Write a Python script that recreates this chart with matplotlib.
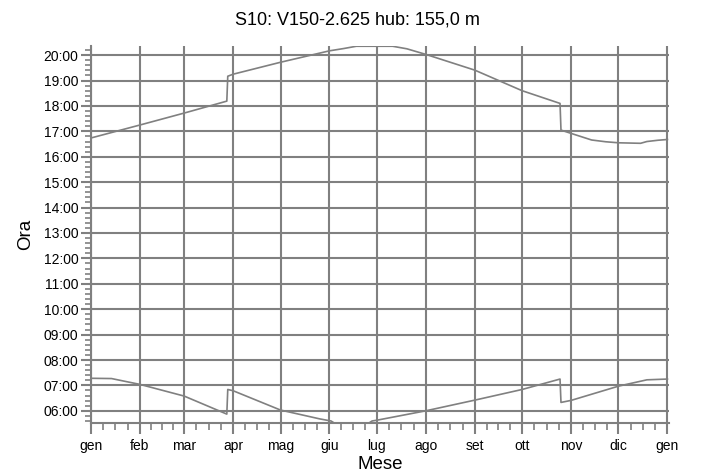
import matplotlib
matplotlib.use('Agg')
import matplotlib.pyplot as plt
from matplotlib.ticker import FixedLocator, MultipleLocator, FuncFormatter

plt.rcParams['font.family'] = ['Liberation Sans', 'DejaVu Sans']

# month starts (day of year) and labels
month_days = [0, 31, 59, 90, 120, 151, 181, 212, 243, 273, 304, 334, 365]
month_labels = ['gen', 'feb', 'mar', 'apr', 'mag', 'giu', 'lug', 'ago',
                'set', 'ott', 'nov', 'dic', 'gen']

# sunset (hours)
sunset_day = [0, 31, 59, 86, 86.6, 90, 120, 151, 160, 168, 191, 200, 212,
              243, 273, 297, 297.6, 304, 317, 326, 334, 348, 352, 359, 365]
sunset_h = [16.74, 17.25, 17.72, 18.19, 19.17, 19.25, 19.72, 20.17, 20.26,
            20.35, 20.35, 20.25, 20.03, 19.41, 18.60, 18.10, 17.05, 16.92,
            16.66, 16.59, 16.55, 16.53, 16.60, 16.65, 16.68]

# sunrise (hours)
sunrise_day = [0, 13, 20, 31, 59, 86, 86.6, 90, 120, 145, 152, 154, 176,
               178, 181, 212, 243, 273, 297, 297.6, 304, 334, 352, 365]
sunrise_h = [7.28, 7.27, 7.18, 7.04, 6.58, 5.87, 6.84, 6.79, 6.03, 5.68,
             5.60, 5.52, 5.52, 5.60, 5.63, 6.00, 6.42, 6.84, 7.25, 6.33,
             6.41, 6.97, 7.22, 7.25]

GRAY = '#808080'

fig = plt.figure(figsize=(7.02, 4.76), dpi=100)
ax = fig.add_axes([91/702, 1-422.5/476, (669-91)/702, (422.5-46)/476])

ax.plot(sunset_day, sunset_h, color=GRAY, lw=1.2)
ax.plot(sunrise_day, sunrise_h, color=GRAY, lw=1.2)

ax.set_xlim(0, 366)
ax.set_ylim(5.54, 20.36)

ax.xaxis.set_major_locator(FixedLocator(month_days))
ax.set_xticks(month_days, month_labels)
minor_x = []
for a, b in zip(month_days[:-1], month_days[1:]):
    minor_x += [a + (b - a) * k / 4 for k in (1, 2, 3)]
ax.xaxis.set_minor_locator(FixedLocator(minor_x))

ax.yaxis.set_major_locator(MultipleLocator(1))
ax.yaxis.set_minor_locator(MultipleLocator(0.2))
ax.yaxis.set_major_formatter(FuncFormatter(lambda v, p: f'{int(round(v)):02d}:00'))

ax.grid(True, which='major', color=GRAY, lw=1.5)
ax.set_axisbelow(True)
for s in ('top', 'right'):
    ax.spines[s].set_visible(False)
for s in ('left', 'bottom'):
    ax.spines[s].set_color(GRAY)
    ax.spines[s].set_linewidth(1.5)

ax.tick_params(axis='both', which='major', color=GRAY, width=1.5, labelsize=10)
ax.tick_params(axis='y', which='major', length=7, pad=2)
ax.tick_params(axis='y', which='minor', length=4, color=GRAY, width=1.2)
ax.tick_params(axis='x', which='major', length=8, pad=4)
ax.tick_params(axis='x', which='minor', length=5, color=GRAY, width=1.2)

ax.set_xlabel('Mese', fontsize=13.5, labelpad=2)
ax.set_ylabel('Ora', fontsize=13.5, labelpad=7)
fig.text(357/702, 1-20/476, 'S10: V150-2.625 hub: 155,0 m', fontsize=13,
         ha='center', va='center')

fig.savefig('out.png', dpi=100)
